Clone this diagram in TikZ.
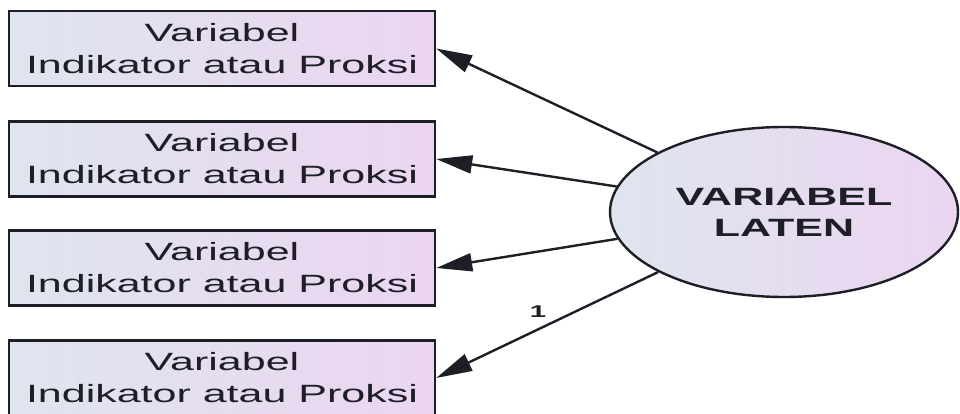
\documentclass[tikz,border=0pt]{standalone}
\usepackage{fontspec}
\newfontfamily\diagfont[FakeStretch=1.72]{Liberation Sans}
\usetikzlibrary{arrows.meta,shapes.geometric}

\definecolor{shadeL}{HTML}{DFE5EE}
\definecolor{shadeR}{HTML}{EBD5F1}
\definecolor{ink}{HTML}{1E1E26}

\tikzset{
  indicator/.style={draw=ink, line width=2.4pt, rectangle,
    minimum width=426pt, minimum height=75pt, inner sep=0pt,
    left color=shadeL, right color=shadeR, align=center, text=ink,
    font=\diagfont\fontsize{25}{32}\selectfont},
  latent/.style={draw=ink, line width=2.4pt, ellipse,
    minimum width=348pt, minimum height=170pt, inner sep=0pt,
    left color=shadeL, right color=shadeR, align=center, text=ink,
    font=\diagfont\bfseries\fontsize{25}{31}\selectfont},
  loading/.style={draw=ink, line width=2.4pt,
    -{Triangle[length=36pt,width=18pt]}},
  weight/.style={text=ink, font=\diagfont\bfseries\fontsize{17}{20}\selectfont}
}

\begin{document}
\begin{tikzpicture}[x=1pt,y=-1pt]
  \useasboundingbox (0,0) rectangle (960,414);

  % observed indicators
  \node[indicator] (b1) at (222,48.5) {Variabel\\Indikator atau Proksi};
  \node[indicator] (b2) at (222,159)  {Variabel\\Indikator atau Proksi};
  \node[indicator] (b3) at (222,268)  {Variabel\\Indikator atau Proksi};
  \node[indicator] (b4) at (222,378)  {Variabel\\Indikator atau Proksi};

  % latent construct
  \node[latent] (lat) at (784,212) {VARIABEL\\LATEN};

  % factor loadings
  \draw[loading] (lat) -- (b1.east);
  \draw[loading] (lat) -- (b2.east);
  \draw[loading] (lat) -- (b3.east);
  \draw[loading] (lat) -- (b4.east);

  % fixed loading for the reference indicator
  \node[weight] (one) at (538,312) {1};
\end{tikzpicture}
\end{document}
